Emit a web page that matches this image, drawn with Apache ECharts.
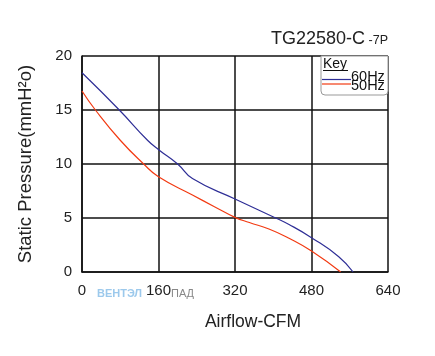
<!DOCTYPE html>
<html><head><meta charset="utf-8">
<script src="https://cdn.jsdelivr.net/npm/echarts@6/dist/echarts.min.js"></script>
<style>html,body{margin:0;padding:0;background:#fff}#c{width:435px;height:356px}</style>
</head><body><div id="c"></div>
<script>
// Data
const xTicks = [0, 160, 320, 480, 640];
const yTicks = [0, 5, 10, 15, 20];
const cfm60 = [0, 78, 137, 161, 200, 231, 320, 405, 433, 480, 537, 567];
const sp60  = [18.45, 15, 12.2, 11.3, 10, 8.65, 6.76, 5.0, 4.4, 3.18, 1.42, 0];
const cfm50 = [0, 28, 80, 129, 160, 231, 277, 320, 350, 391, 433, 480, 541];
const sp50  = [16.76, 15, 12.2, 10, 8.82, 7.13, 6.05, 5.06, 4.58, 3.98, 3.12, 1.94, 0];
const seriesNames = ['60Hz', '50Hz'];

const FONT = '"Liberation Sans", Arial, sans-serif';
const chart = echarts.init(document.getElementById('c'), null, {renderer: 'canvas'});
const pair = (xs, ys) => xs.map((x, i) => [x, ys[i]]);
chart.setOption({
  animation: false,
  backgroundColor: '#fff',
  grid: {left: 82, right: 47, top: 56, bottom: 84, containLabel: false},
  xAxis: {
    type: 'value', min: xTicks[0], max: xTicks[xTicks.length - 1], interval: 160,
    name: 'Airflow-CFM', nameLocation: 'middle', nameGap: 41,
    nameTextStyle: {fontFamily: FONT, fontSize: 17.5, color: '#222', padding: [0, 0, 0, 36]},
    axisLine: {show: true, lineStyle: {color: '#111', width: 1.5}},
    axisTick: {show: false},
    axisLabel: {fontFamily: FONT, fontSize: 15, color: '#222', margin: 11},
    splitLine: {show: true, lineStyle: {color: '#111', width: 1.5}}
  },
  yAxis: {
    type: 'value', min: yTicks[0], max: yTicks[yTicks.length - 1], interval: 5,
    name: 'Static Pressure(mmH²o)', nameLocation: 'middle', nameGap: 47,
    nameTextStyle: {fontFamily: FONT, fontSize: 18.5, color: '#222'},
    axisLine: {show: true, lineStyle: {color: '#111', width: 1.5}},
    axisTick: {show: false},
    axisLabel: {fontFamily: FONT, fontSize: 15, color: '#222', margin: 10},
    splitLine: {show: true, lineStyle: {color: '#111', width: 1.5}}
  },
  series: [
    {name: seriesNames[0], type: 'line', data: pair(cfm60, sp60), smooth: 0.5, symbol: 'none',
     lineStyle: {color: '#2e2e96', width: 1.2}, z: 3},
    {name: seriesNames[1], type: 'line', data: pair(cfm50, sp50), smooth: 0.5, symbol: 'none',
     lineStyle: {color: '#f23a12', width: 1.2}, z: 3}
  ],
  graphic: [
    {type: 'text', right: 47, top: 30, style: {
      text: '{a|TG22580-C}{b| -7P}', fill: '#222',
      rich: {a: {fontFamily: FONT, fontSize: 18, fill: '#222'}, b: {fontFamily: FONT, fontSize: 12.5, fill: '#222', padding: [4, 0, 0, 0]}}
    }},
    {type: 'rect', shape: {x: 321, y: 56, width: 67, height: 39, r: [0, 0, 4, 4]},
     style: {fill: '#fff', stroke: '#999', lineWidth: 1}, z: 10},
    {type: 'text', x: 323, y: 57, z: 11, style: {text: 'Key', fontFamily: FONT, fontSize: 14, fill: '#111'}},
    {type: 'line', shape: {x1: 323, y1: 70.5, x2: 348, y2: 70.5}, style: {stroke: '#111', lineWidth: 1}, z: 11},
    {type: 'line', shape: {x1: 322, y1: 79.5, x2: 351, y2: 79.5}, style: {stroke: '#2e2e96', lineWidth: 1.2}, z: 11},
    {type: 'line', shape: {x1: 322, y1: 84, x2: 351, y2: 84}, style: {stroke: '#f23a12', lineWidth: 1.2}, z: 11},
    {type: 'text', x: 351, y: 69, z: 11, style: {text: seriesNames[0], fontFamily: FONT, fontSize: 14.5, fill: '#111'}},
    {type: 'text', x: 351, y: 78, z: 11, style: {text: seriesNames[1], fontFamily: FONT, fontSize: 14.5, fill: '#111'}},
    {type: 'text', x: 97, y: 288, z: 0, style: {text: 'ВЕНТЭЛ', fontFamily: FONT, fontSize: 11, fontWeight: 'bold', fill: '#9cc9ec'}},
    {type: 'text', x: 171, y: 288, z: 0, style: {text: 'ПАД', fontFamily: FONT, fontSize: 11, fill: '#888'}}
  ]
});
</script></body></html>
